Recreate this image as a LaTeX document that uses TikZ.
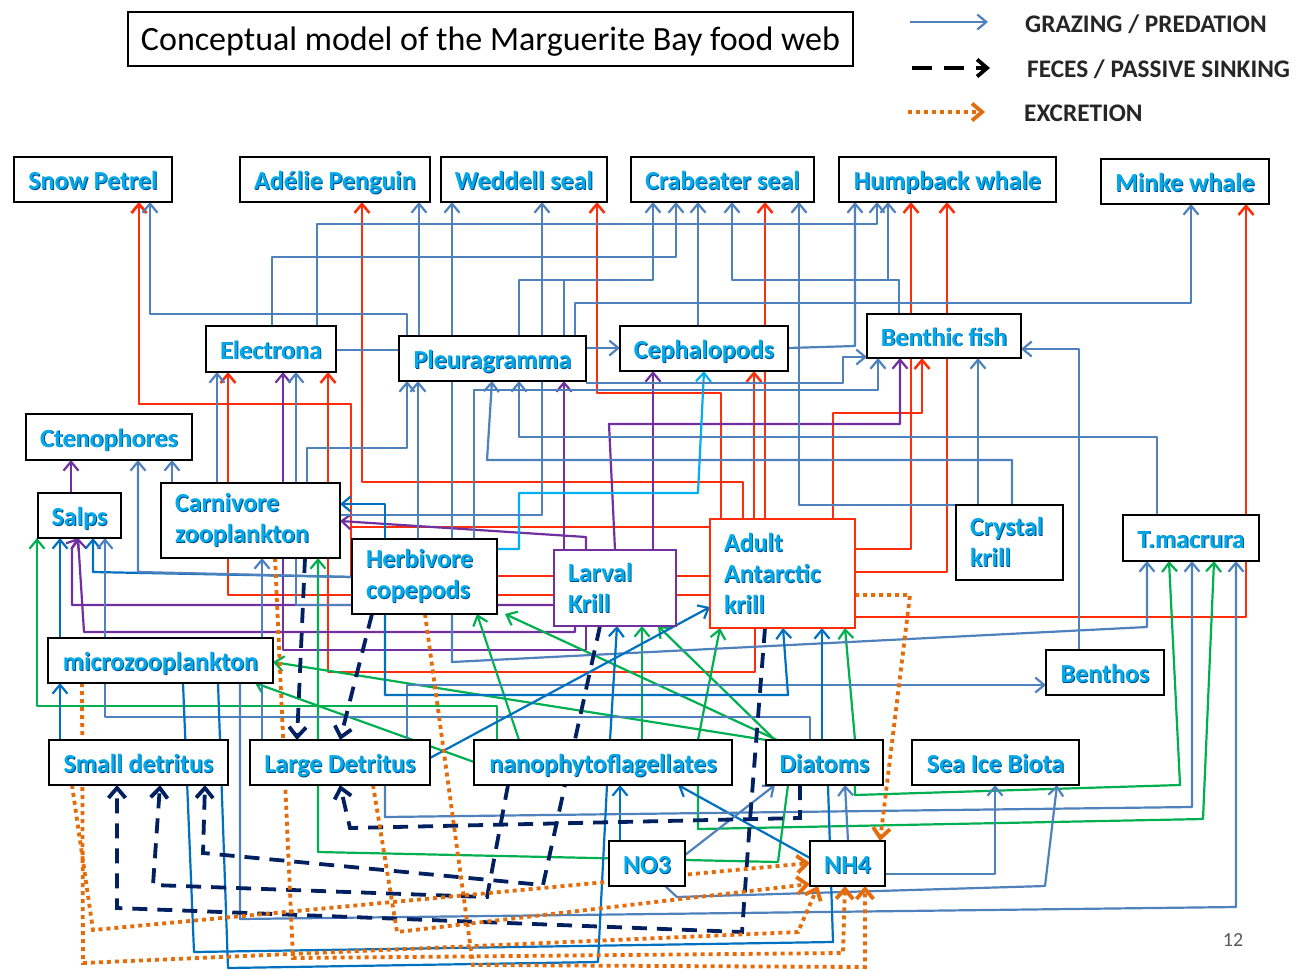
\documentclass[tikz,border=0pt]{standalone}
\usepackage{fontspec}
\setmainfont{Carlito}
\usetikzlibrary{arrows.meta}
\definecolor{stl}{RGB}{79,129,189}
\definecolor{dkb}{RGB}{0,112,192}
\definecolor{rdc}{RGB}{255,45,10}
\definecolor{puc}{RGB}{112,48,160}
\definecolor{lbc}{RGB}{0,176,240}
\definecolor{grc}{RGB}{0,176,80}
\definecolor{nvc}{RGB}{0,32,96}
\definecolor{orc}{RGB}{228,108,10}
\definecolor{labc}{RGB}{0,170,235}
\definecolor{labsh}{RGB}{0,70,130}
\pgfdeclarelayer{bgl}
\pgfdeclarelayer{lnl}
\pgfsetlayers{bgl,lnl,main}
\newcommand\lb[1]{\makebox[0pt][l]{\kern0.9pt\raisebox{-0.9pt}{\textcolor{labsh}{#1}}}\textcolor{labc}{#1}}
\newcommand\bx[7]{\node[box,#7,minimum width={(#4-#2)*1pt},minimum height={(#5-#3)*1pt}] (#1) at ({(#2+#4)/2},{(#3+#5)/2}) {#6};}
\begin{document}
\begin{tikzpicture}[x=1pt,y=-1pt,
 box/.style={draw,line width=2.5pt,fill=white,inner sep=0pt,outer sep=0pt,font=\bfseries\fontsize{26}{31}\selectfont},
 one/.style={text height=20pt,text depth=0pt},
 arw/.style={-{Straight Barb[length=9pt,width=15pt]}},
 cl/.style={line width=2.2pt,line join=round},
 gz/.style={cl,stl,arw},
 gzd/.style={cl,dkb,arw},
 rd/.style={cl,line width=2.5pt,rdc,arw},
 pu/.style={cl,puc,arw},
 lbs/.style={cl,lbc,arw},
 gr/.style={cl,grc,arw},
 fe/.style={line width=3.8pt,nvc,dash pattern=on 15pt off 10pt,-{Straight Barb[length=10pt,width=17pt]}},
 ex/.style={line width=3.8pt,orc,dash pattern=on 4pt off 4pt,-{Straight Barb[length=10pt,width=17pt]}},
 lgt/.style={anchor=west,inner sep=0pt,font=\bfseries\fontsize{25.3}{30}\selectfont,text=black!85}
]
\begin{pgfonlayer}{bgl}
\fill[white] (0,0) rectangle (1301,970);
\end{pgfonlayer}
\useasboundingbox (0,0) rectangle (1301,970);

% title and legend
\node[draw,line width=2pt,minimum width=725pt,minimum height=54pt,inner sep=0pt,font=\fontsize{34}{40}\selectfont,text height=23pt,text depth=0pt] (ttl) at (490.5,39) {Conceptual model of the Marguerite Bay food web};
\node[lgt] (lg1) at (1025,24) {GRAZING / PREDATION};
\node[lgt] (lg2) at (1027,69) {FECES / PASSIVE SINKING};
\node[lgt] (lg3) at (1024,113) {EXCRETION};
\coordinate (lg1s) at (910,22); \coordinate (lg1e) at (988,22);
\coordinate (lg2s) at (912,68); \coordinate (lg2e) at (990,68);
\coordinate (lg3s) at (908,112); \coordinate (lg3e) at (985,112);
\node[font=\fontsize{20}{24}\selectfont,text=black!65] (pg) at (1233,940) {12};

% boxes
\bx{sp}{14}{157}{172}{202}{\lb{Snow Petrel}}{one}
\bx{ap}{240}{157}{430}{202}{\lb{Adélie Penguin}}{one}
\bx{ws}{441}{157}{607}{202}{\lb{Weddell seal}}{one}
\bx{cs}{631}{157}{814}{202}{\lb{Crabeater seal}}{one}
\bx{hw}{839}{157}{1056}{202}{\lb{Humpback whale}}{one}
\bx{mw}{1101}{159}{1269}{204}{\lb{Minke whale}}{one}
\bx{el}{206}{326}{336}{372}{\lb{Electrona}}{one}
\bx{pl}{399}{336}{586}{381}{\lb{Pleuragramma}}{one}
\bx{ce}{620}{326}{788}{371}{\lb{Cephalopods}}{one}
\bx{bf}{867}{314}{1021}{358}{\lb{Benthic fish}}{one}
\bx{ct}{26}{414}{192}{460}{\lb{Ctenophores}}{one}
\bx{sa}{38}{493}{121}{538}{\lb{Salps}}{one}
\bx{cz}{161}{483}{340}{558}{\lb{Carnivore}\\\lb{zooplankton}}{align=left,text width=151pt}
\bx{hc}{352}{539}{497}{614}{\lb{Herbivore}\\\lb{copepods}}{align=left,text width=117pt}
\bx{lk}{554}{550}{676}{626}{\lb{Larval}\\\lb{Krill}}{align=left,text width=94pt,draw=puc}
\bx{ak}{710}{519}{855}{628}{\lb{Adult}\\\lb{Antarctic}\\\lb{krill}}{align=left,text width=117pt,draw=rdc}
\bx{ck}{956}{505}{1063}{580}{\lb{Crystal}\\\lb{krill}}{align=left,text width=79pt}
\bx{tm}{1123}{515}{1259}{561}{\lb{T.macrura}}{one}
\bx{mz}{48}{638}{273}{683}{\lb{microzooplankton}}{one}
\bx{bn}{1046}{650}{1164}{695}{\lb{Benthos}}{one}
\bx{sd}{49}{740}{228}{785}{\lb{Small detritus}}{one}
\bx{ld}{250}{740}{430}{785}{\lb{Large Detritus}}{one}
\bx{nf}{474}{740}{732}{785}{\lb{nanophytoflagellates}}{one}
\bx{di}{766}{740}{883}{785}{\lb{Diatoms}}{one}
\bx{si}{912}{740}{1079}{785}{\lb{Sea Ice Biota}}{one}
\bx{no}{609}{841}{685}{886}{\lb{NO3}}{one}
\bx{nh}{810}{841}{885}{886}{\lb{NH4}}{one}

\begin{pgfonlayer}{lnl}
% legend
\draw[gz] (lg1s) -- (lg1e);
\draw[fe,black,dash pattern=on 20pt off 12pt] (lg2s) -- (lg2e);
\draw[ex] (lg3s) -- (lg3e);

% red
\draw[rd] (743,0 |- ak.north) |- (362,482) -- (362,0 |- ap.south);
\draw[rd] (721,0 |- ak.north) |- (597,393) -- (597,0 |- ws.south);
\draw[rd] (765,0 |- ak.north) -- (765,0 |- cs.south);
\draw[rd] (754,0 |- ak.north) -- (754,0 |- ce.south);
\draw[rd] (833,0 |- ak.north) |- (922,413) -- (922,0 |- bf.south);
\draw[rd] (ak.east |- 0,549) -| (911,0 |- hw.south);
\draw[rd] (ak.east |- 0,572) -| (947,0 |- hw.south);
\draw[rd] (ak.east |- 0,617) -| (1246,0 |- mw.south);
\draw[rd] (ak.west |- 0,595) -| (228,0 |- el.south);
\draw[rd] (755,0 |- ak.south) |- (328,672) -- (328,0 |- el.south);
\draw[rd] (ak.west |- 0,527) -| (351,404) -| (139,0 |- sp.south);
\draw[rd] (ak.west |- 0,576) -- (351,576) -- (351,404) -- (139,404) -- (139,0 |- sp.south);

% purple
\draw[pu] (71,0 |- sa.north) -- (71,0 |- ct.south);
\draw[pu] (575,0 |- lk.south) |- (84,632) -- (78,0 |- sa.south);
\draw[pu] (586,0 |- lk.south) |- (283,650) -- (283,0 |- el.south);
\draw[pu] (lk.west |- 0,605) -| (72,548) -- (78,0 |- sa.south);
\draw[pu] (586,0 |- lk.north) -- (586,537) -- (cz.east |- 0,521);
\draw[pu] (564,0 |- lk.north) -- (564,0 |- pl.south);
\draw[pu] (653,0 |- lk.north) -- (653,0 |- ce.south);
\draw[pu] (615,0 |- lk.north) -- (609,424) -| (900,0 |- bf.south);

% light blue
\draw[lbs] (hc.east |- 0,549) -| (519,493) -- (698,493) -- (704,0 |- ce.south);

% green
\draw[gr] (497,0 |- nf.north) |- (37,706) -- (37,0 |- sa.south);
\draw[gr] (di.north west) -- (mz.east |- 0,662);
\draw[gr] (nf.west |- 0,762) -- (255,0 |- mz.south);
\draw[gr] (519,0 |- nf.north) -- (477,0 |- hc.south);
\draw[gr] (777,0 |- di.north) -- (505,0 |- hc.south);
\draw[gr] (642,0 |- nf.north) -- (642,0 |- lk.south);
\draw[gr] (775,0 |- di.north) -- (658,0 |- lk.south);
\draw[gr] (698,0 |- nf.north) -- (720,0 |- ak.south);
\draw[gr] (855,0 |- di.north) -- (845,0 |- ak.south);
\draw[gr] (788,0 |- di.south) -- (778,862) -- (318,852) -- (318,0 |- cz.south);
\draw[gr] (855,0 |- di.south) -- (855,795) -- (1180,785) -- (1169,0 |- tm.south);
\draw[gr] (698,0 |- nf.south) -- (698,829) -- (1203,819) -- (1214,0 |- tm.south);

% grazing / predation (blue)
\draw[gz] (407,0 |- pl.north) |- (150,314) -- (150,0 |- sp.south);
\draw[gz] (419,0 |- pl.north) -- (419,0 |- ap.south);
\draw[gz] (452,0 |- hc.north) -- (452,0 |- ws.south);
\draw[gz] (452,0 |- hc.south) -- (452,662) -- (1147,627) -- (1147,0 |- tm.south);
\draw[gz] (cz.east |- 0,515) -| (542,0 |- ws.south);
\draw[gz] (519,0 |- pl.north) |- (653,280) -- (653,0 |- cs.south);
\draw[gz] (272,0 |- el.north) |- (676,257) -- (676,0 |- cs.south);
\draw[gz] (698,0 |- ce.north) -- (698,0 |- cs.south);
\draw[gz] (899,0 |- bf.north) |- (732,280) -- (732,0 |- cs.south);
\draw[gz] (899,0 |- bf.north) |- (888,280) -- (888,0 |- hw.south);
\draw[gz] (978,0 |- ck.north) -| (799,0 |- cs.south);
\draw[gz] (978,0 |- ck.north) -- (978,0 |- bf.south);
\draw[gz] (ce.east |- 0,348) -- (855,346) -- (855,0 |- hw.south);
\draw[gz] (317,0 |- el.north) |- (877,224) -- (877,0 |- hw.south);
\draw[gz] (575,0 |- pl.north) |- (1191,303) -- (1191,0 |- mw.south);
\draw[gz,-] (564,0 |- pl.north) -- (564,280);
\draw[gz,-] (el.east |- 0,350) -- (pl.west |- 0,350);
\draw[gz] (pl.east |- 0,348) -- (ce.west |- 0,348);
\draw[gz] (pl.east |- 0,383) -| (843,357) -- (bf.west |- 0,357);
\draw[gz] (474,0 |- hc.north) |- (878,390) -- (878,0 |- bf.south);
\draw[gz] (307,0 |- cz.north) |- (407,448) -- (407,0 |- pl.south);
\draw[gz] (418,0 |- hc.north) -- (418,0 |- pl.south);
\draw[gz] (1012,0 |- ck.north) -- (1012,460) -- (487,460) -- (492,0 |- pl.south);
\draw[gz] (1157,0 |- tm.north) |- (519,437) -- (519,0 |- pl.south);
\draw[gz] (217,0 |- cz.north) -- (217,0 |- el.south);
\draw[gz] (hc.west |- 0,605) -| (296,0 |- el.south);
\draw[gzd] (385,0 |- hc.north) |- (cz.east |- 0,504);
\draw[gzd] (hc.west |- 0,577) -- (93,572) -- (93,0 |- sa.south);
\draw[gz] (hc.west |- 0,577) -- (138,572) -- (138,0 |- ct.south);
\draw[gz] (172,0 |- cz.north) -- (172,0 |- ct.south);
\draw[gzd] (60,0 |- mz.north) -- (60,0 |- sa.south);
\draw[gzd] (60,0 |- sd.north) -- (60,0 |- mz.south);
\draw[gz] (810,0 |- di.north) |- (105,717) -- (105,0 |- sa.south);
\draw[gz] (262,0 |- ld.north) -- (262,0 |- cz.south);
\draw[gz] (407,0 |- ld.north) |- (bn.west |- 0,685);
\draw[gz] (1079,0 |- bn.north) |- (bf.east |- 0,349);
\draw[gzd] (385,0 |- hc.south) |- (788,695) -- (783,0 |- ak.south);
\draw[gzd] (822,0 |- di.north) -- (822,0 |- ak.south);
\draw[gzd] (610,0 |- nf.north) -- (617,0 |- lk.south);
\draw[gzd] (ld.east |- 0,758) -- (ak.west |- 0,607);
\draw[gzd] (nh.west |- 0,858) -- (678,0 |- nf.south);
\draw[gzd] (620,0 |- no.north) -- (620,0 |- nf.south);
\draw[gz] (no.east |- 0,855) -- (775,0 |- di.south);
\draw[gz] (848,0 |- nh.north) -- (845,0 |- di.south);
\draw[gz] (nh.east |- 0,874) -| (995,0 |- si.south);
\draw[gz] (665,0 |- no.south) -- (677,897) -- (1045,886) -- (1057,0 |- si.south);
\draw[gz] (385,0 |- ld.south) -- (385,817) -- (1192,807) -- (1192,0 |- tm.south);
\draw[gz] (240,0 |- mz.south) -- (240,919) -- (1236,907) -- (1236,0 |- tm.south);
\draw[gzd,-] (183,0 |- mz.south) -- (194,952) -- (833,942) -- (828,0 |- di.south);
\draw[gzd,-] (218,0 |- mz.south) -- (228,968) -- (598,962) -- (607,0 |- nf.south);

% feces / passive sinking
\draw[fe] (305,0 |- cz.south) -- (297,0 |- ld.north);
\draw[fe] (372,0 |- hc.south) -- (340,0 |- ld.north);
\draw[fe] (800,0 |- di.south) -- (800,818) -- (350,828) -- (340,0 |- ld.south);
\draw[fe] (600,0 |- lk.south) -- (565,785) -- (543,885) -- (203,853) -- (205,0 |- sd.south);
\draw[fe] (508,0 |- nf.south) -- (487,897) -- (153,885) -- (160,0 |- sd.south);
\draw[fe] (765,0 |- ak.south) -- (750,820) -- (742,932) -- (117,908) -- (117,0 |- sd.south);

% excretion
\draw[ex] (ak.east |- 0,595) -- (910,595) -- (880,0 |- nh.north);
\draw[ex] (72,0 |- sd.south) -- (93,930) -- (nh.west |- 0,863);
\draw[ex] (373,0 |- ld.south) -- (397,932) -- (nh.west |- 0,884);
\draw[ex] (82,0 |- mz.south) -- (83,963) -- (798,932) -- (818,0 |- nh.south);
\draw[ex] (275,0 |- cz.south) -- (293,958) -- (843,953) -- (845,0 |- nh.south);
\draw[ex] (425,0 |- hc.south) -- (473,965) -- (865,967) -- (865,0 |- nh.south);
\end{pgfonlayer}
\end{tikzpicture}
\end{document}
